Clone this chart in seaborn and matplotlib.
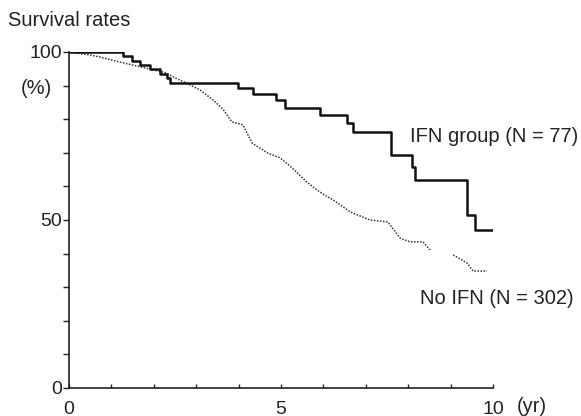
import matplotlib
matplotlib.use("Agg")
import matplotlib.pyplot as plt
import seaborn as sns
import pandas as pd

# Kaplan-Meier style survival
ifn_t = [0, 1.27, 1.49, 1.67, 1.91, 2.15, 2.31, 2.38, 3.99, 4.34, 4.88, 5.09,
         5.92, 6.56, 6.70, 7.59, 8.09, 8.16, 9.39, 9.58, 10.0]
ifn_s = [100, 98.7, 97.4, 96.1, 94.8, 93.5, 92.2, 90.9, 89.3, 87.5, 85.7, 83.3,
         81.2, 78.9, 76.2, 69.3, 65.8, 61.9, 51.5, 47.0, 47.0]

# the no-IFN curve has many tiny steps, so it is traced as a dotted polyline
noifn_t = [0, 0.50, 0.73, 1.20, 1.51, 1.91, 2.29, 2.50, 2.76, 3.09, 3.40, 3.63,
           3.84, 4.10, 4.32, 4.69, 4.98, 5.21, 5.61, 5.85, 6.11, 6.23, 6.63,
           7.10, 7.52, 7.81, 8.04, 8.35, 8.51,
           9.06, 9.39, 9.53, 9.86]
noifn_s = [100, 99.1, 98.5, 97.0, 96.1, 94.9, 93.8, 92.3, 90.8, 88.7, 85.7, 83.0,
           79.2, 78.3, 72.9, 69.9, 68.5, 66.1, 61.3, 58.9, 56.8, 56.0, 52.4,
           50.0, 49.4, 44.6, 43.5, 43.5, 41.1,
           39.6, 37.2, 34.8, 34.8]
noifn_seg = [0] * 29 + [1] * 4

ifn = pd.DataFrame({"t": ifn_t, "s": ifn_s})
noifn = pd.DataFrame({"t": noifn_t, "s": noifn_s, "seg": noifn_seg})

sns.set_style("ticks")
plt.rcParams["font.family"] = ["Liberation Sans", "DejaVu Sans"]

fig = plt.figure(figsize=(5.81, 4.16), dpi=100)
ax = fig.add_axes([69 / 581, 28 / 416, 424 / 581, 336 / 416])

sns.lineplot(data=noifn, x="t", y="s", units="seg", estimator=None, ax=ax,
             color="#333333", lw=1.1, linestyle=(0, (1, 1)), sort=False)
sns.lineplot(data=ifn, x="t", y="s", estimator=None, ax=ax,
             color="#111111", lw=1.8, drawstyle="steps-post", sort=False)

ax.set_xlim(0, 10)
ax.set_ylim(0, 100)
ax.set_xlabel("")
ax.set_ylabel("")
sns.despine(ax=ax)
for sp in ax.spines.values():
    sp.set_linewidth(1.2)
    sp.set_color("#222222")

ax.set_xticks([0, 5, 10])
ax.set_xticks(range(0, 11), minor=True)
ax.set_yticks([0, 50, 100])
ax.set_yticks(range(0, 101, 10), minor=True)
ax.tick_params(axis="y", which="both", direction="out", length=4, width=1,
               labelsize=14, pad=1, colors="#222222")
ax.tick_params(axis="x", which="both", direction="in", length=3, width=1,
               labelsize=14, pad=9, colors="#222222")

fs = 14.5
fig.text(8 / 581, 1 - 20 / 416, "Survival rates", fontsize=fs,
         va="center", ha="left", color="#222222")
fig.text(21 / 581, 1 - 88 / 416, "(%)", fontsize=fs,
         va="center", ha="left", color="#222222")
fig.text(517 / 581, 1 - 407 / 416, "(yr)", fontsize=fs,
         va="center", ha="left", color="#222222")
fig.text(410 / 581, 1 - 136 / 416, "IFN group (N = 77)", fontsize=fs,
         va="center", ha="left", color="#222222")
fig.text(420 / 581, 1 - 298 / 416, "No IFN (N = 302)", fontsize=fs,
         va="center", ha="left", color="#222222")

fig.savefig("out.png", dpi=100)
